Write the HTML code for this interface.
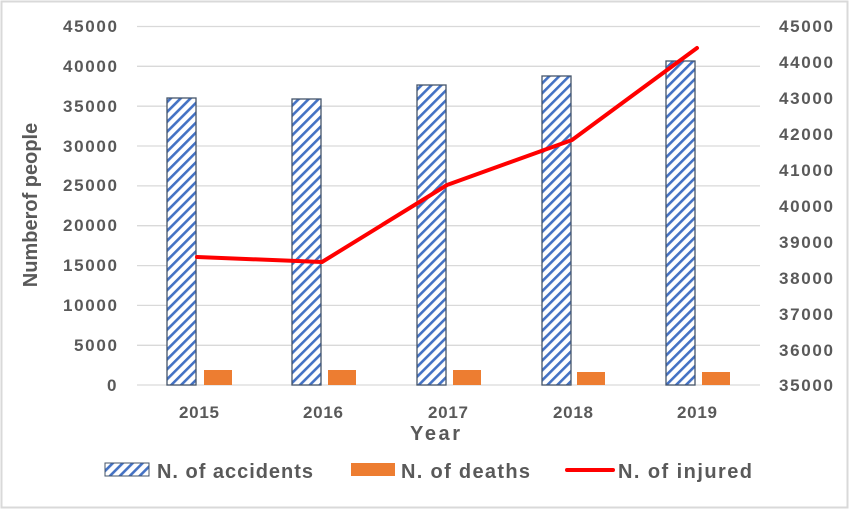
<!DOCTYPE html>
<html><head><meta charset="utf-8"><style>
html,body{margin:0;padding:0;background:#fff}
svg{display:block}
text{font-family:"Liberation Sans",sans-serif;font-weight:bold;fill:#595959}
</style></head><body>
<svg width="850" height="510" viewBox="0 0 850 510">
<defs>
<pattern id="h" patternUnits="userSpaceOnUse" width="7" height="7" patternTransform="rotate(45)">
<rect width="7" height="7" fill="#fff"/>
<rect x="0" y="0" width="2.6" height="7" fill="#4472C4"/>
</pattern>
</defs>
<rect x="1.5" y="1.5" width="846" height="506" fill="#fff" stroke="#d9d9d9" stroke-width="2"/>
<g stroke="#d9d9d9" stroke-width="1.3">
<line x1="137" x2="760" y1="26.5" y2="26.5"/>
<line x1="137" x2="760" y1="66.3" y2="66.3"/>
<line x1="137" x2="760" y1="106.2" y2="106.2"/>
<line x1="137" x2="760" y1="146" y2="146"/>
<line x1="137" x2="760" y1="185.9" y2="185.9"/>
<line x1="137" x2="760" y1="225.7" y2="225.7"/>
<line x1="137" x2="760" y1="265.6" y2="265.6"/>
<line x1="137" x2="760" y1="305.4" y2="305.4"/>
<line x1="137" x2="760" y1="345.3" y2="345.3"/>
<line x1="137" x2="760" y1="385" y2="385"/>
</g>
<g font-size="17">
<text x="63" y="32" textLength="54">45000</text><text x="63" y="72" textLength="54">40000</text><text x="63" y="112" textLength="54">35000</text>
<text x="63" y="152" textLength="54">30000</text><text x="63" y="191" textLength="54">25000</text><text x="63" y="231" textLength="54">20000</text>
<text x="63" y="271" textLength="54">15000</text><text x="63" y="311" textLength="54">10000</text><text x="74" y="351" textLength="43">5000</text>
<text x="107" y="391">0</text>
</g>
<g font-size="17">
<text x="779" y="32" textLength="54">45000</text><text x="779" y="68" textLength="54">44000</text><text x="779" y="104" textLength="54">43000</text>
<text x="779" y="140" textLength="54">42000</text><text x="779" y="176" textLength="54">41000</text><text x="779" y="212" textLength="54">40000</text>
<text x="779" y="248" textLength="54">39000</text><text x="779" y="284" textLength="54">38000</text><text x="779" y="320" textLength="54">37000</text>
<text x="779" y="356" textLength="54">36000</text><text x="779" y="391" textLength="54">35000</text>
</g>
<g fill="url(#h)" stroke="#44546A" stroke-width="1.3">
<rect x="167" y="98" width="29" height="287"/>
<rect x="292" y="99" width="29" height="286"/>
<rect x="417" y="85" width="29" height="300"/>
<rect x="542" y="76" width="29" height="309"/>
<rect x="666" y="61" width="29" height="324"/>
</g>
<g fill="#ED7D31">
<rect x="204" y="370" width="28" height="15"/>
<rect x="328" y="370" width="28" height="15"/>
<rect x="453" y="370" width="28" height="15"/>
<rect x="577" y="372" width="28" height="13"/>
<rect x="702" y="372" width="28" height="13"/>
</g>
<polyline points="197,257 322,262 447,185 572,140 697,48" fill="none" stroke="#FF0000" stroke-width="4" stroke-linejoin="round" stroke-linecap="round"/>
<g font-size="17">
<text x="179" y="418" textLength="40">2015</text><text x="303" y="418" textLength="40">2016</text><text x="428" y="418" textLength="40">2017</text>
<text x="553" y="418" textLength="40">2018</text><text x="677" y="418" textLength="40">2019</text>
</g>
<text x="410" y="440" font-size="20" textLength="50">Year</text>
<text transform="translate(37,205) rotate(-90)" font-size="20" text-anchor="middle">Numberof people</text>
<rect x="105" y="463" width="44" height="13" fill="url(#h)" stroke="#44546A" stroke-width="1"/>
<text x="157" y="478" font-size="20" textLength="156">N. of accidents</text>
<rect x="351" y="463" width="44" height="13" fill="#ED7D31"/>
<text x="401" y="478" font-size="20" textLength="129">N. of deaths</text>
<line x1="567" x2="613" y1="470" y2="470" stroke="#FF0000" stroke-width="4" stroke-linecap="round"/>
<text x="618" y="478" font-size="20" textLength="134">N. of injured</text>
</svg>
</body></html>
